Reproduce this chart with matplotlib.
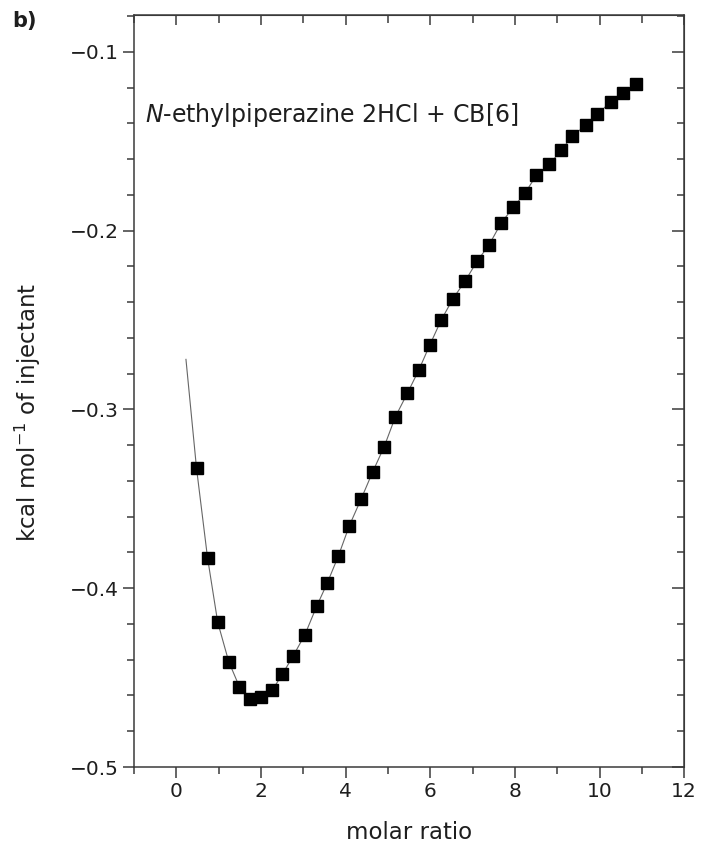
import matplotlib
matplotlib.use("Agg")
import matplotlib.pyplot as plt
from matplotlib.ticker import MultipleLocator

plt.rcParams["font.family"] = ["DejaVu Sans"]

# ITC titration: heat per injection vs molar ratio
ratio = [0.48, 0.74, 0.98, 1.24, 1.49, 1.75, 2.00, 2.27, 2.51, 2.76,
         3.04, 3.32, 3.57, 3.83, 4.09, 4.37, 4.64, 4.91, 5.18, 5.46,
         5.73, 5.99, 6.26, 6.54, 6.83, 7.11, 7.39, 7.67, 7.96, 8.24,
         8.51, 8.81, 9.10, 9.36, 9.68, 9.95, 10.26, 10.56, 10.86]
heat = [-0.333, -0.383, -0.419, -0.441, -0.455, -0.462, -0.461, -0.457, -0.448, -0.438,
        -0.426, -0.410, -0.397, -0.382, -0.365, -0.350, -0.335, -0.321, -0.304, -0.291,
        -0.278, -0.264, -0.250, -0.238, -0.228, -0.217, -0.208, -0.196, -0.187, -0.179,
        -0.169, -0.163, -0.155, -0.147, -0.141, -0.135, -0.128, -0.123, -0.118]

# fitted curve starts a bit before the first injection
fit_x = [0.23] + ratio
fit_y = [-0.272] + heat

AX_COL = "#3a3a3a"
TXT_COL = "#1e1e1e"

fig = plt.figure(figsize=(7.01, 8.48), dpi=100)
ax = fig.add_axes([0.191, 0.0955, 0.785, 0.887])

ax.plot(fit_x, fit_y, color="#666666", linewidth=0.8, zorder=2)
ax.plot(ratio, heat, linestyle="none", marker="s", markersize=8.5,
        color="black", zorder=3)

ax.set_xlim(-1, 12)
ax.set_ylim(-0.5, -0.0793)
ax.xaxis.set_major_locator(MultipleLocator(2))
ax.xaxis.set_minor_locator(MultipleLocator(1))
ax.yaxis.set_major_locator(MultipleLocator(0.1))
ax.yaxis.set_minor_locator(MultipleLocator(0.02))

for sp in ax.spines.values():
    sp.set_color(AX_COL)
    sp.set_linewidth(1.1)

ax.tick_params(which="both", direction="out", color=AX_COL, width=1.1,
               labelsize=14.5, labelcolor=TXT_COL, pad=3,
               top=False, right=False)
ax.tick_params(which="major", length=8)
ax.tick_params(which="minor", length=5)

# top and right ticks point inwards
top = ax.secondary_xaxis("top")
top.xaxis.set_major_locator(MultipleLocator(2))
top.xaxis.set_minor_locator(MultipleLocator(1))
top.tick_params(which="both", direction="in", color=AX_COL, width=1.1,
                labeltop=False)
top.tick_params(which="major", length=7)
top.tick_params(which="minor", length=6)
top.spines["top"].set_color(AX_COL)

right = ax.secondary_yaxis("right")
right.yaxis.set_major_locator(MultipleLocator(0.1))
right.yaxis.set_minor_locator(MultipleLocator(0.02))
right.tick_params(which="both", direction="in", color=AX_COL, width=1.1,
                  labelright=False)
right.tick_params(which="major", length=9)
right.tick_params(which="minor", length=5)
right.spines["right"].set_color(AX_COL)

ax.set_xlabel("molar ratio", fontsize=16.5, color=TXT_COL)
ax.xaxis.set_label_coords(0.5, -0.072)
ax.set_ylabel("kcal mol$^{-1}$ of injectant", fontsize=16.5, color=TXT_COL)
ax.yaxis.set_label_coords(-0.165, 0.471)

ax.text(0.02, 0.867, "$\\mathit{N}$-ethylpiperazine 2HCl + CB[6]",
        transform=ax.transAxes, fontsize=17, va="center", ha="left",
        color=TXT_COL)

fig.text(0.017, 0.975, "b)", fontsize=15, fontweight="bold", va="center",
         color=TXT_COL)

fig.savefig("out.png", dpi=100)
